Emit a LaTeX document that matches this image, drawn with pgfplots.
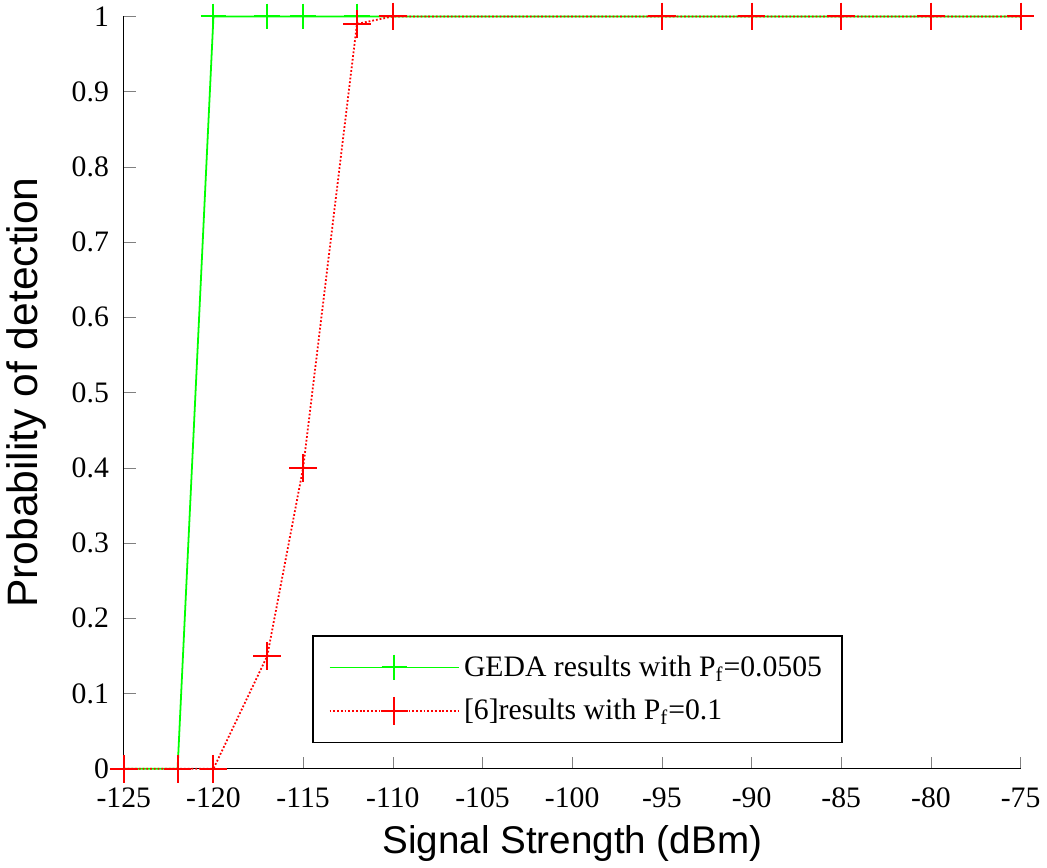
\documentclass[border=0pt]{standalone}
\usepackage{fontspec}
\setmainfont{Liberation Serif}
\newfontfamily\arial{Liberation Sans}
\usepackage{pgfplots}
\pgfplotsset{compat=1.18}

\begin{document}
\begin{tikzpicture}
\begin{axis}[
    scale only axis,
    width=453pt, height=380pt,
    xmin=-125, xmax=-75, ymin=0, ymax=1,
    axis lines*=left,
    tick align=inside,
    major tick length=6pt,
    xtick={-125,-120,...,-75},
    ytick={0,0.1,...,1},
    /pgf/number format/assume math mode=true,
    /pgf/number format/fixed,
    ticklabel style={font=\fontsize{15}{18}\selectfont},
    xticklabel style={yshift=-6pt},
    yticklabel style={xshift=-4pt},
    xlabel={\arial Signal Strength (dBm)},
    ylabel={\arial Probability of detection},
    xlabel style={font=\fontsize{19.5}{24}\selectfont, yshift=-2pt},
    ylabel style={font=\fontsize{21.5}{26}\selectfont, yshift=6pt},
    clip=false,
    legend cell align=left,
    legend style={at={(0.21,0.034)}, anchor=south west,
        font=\fontsize{15}{18}\selectfont, draw=black, line width=0.8pt,
        inner xsep=8pt, inner ysep=8pt, row sep=6pt,
        /tikz/every even column/.append style={column sep=6pt}},
    legend image code/.code={
        \draw[#1, mark=none] (0cm,0cm) -- (2.3cm,0cm);
        \draw[#1, only marks] plot coordinates {(1.15cm,0cm)};
    },
]
\addplot[color=green, line width=0.9pt, mark=+, mark size=6.5pt,
    mark options={solid, line width=1pt}] coordinates {
    (-125,0) (-122,0) (-120,1) (-117,1) (-115,1) (-112,1) (-110,1)
    (-95,1) (-90,1) (-85,1) (-80,1) (-75,1)
};
\addlegendentry{GEDA results with P$_\mathrm{f}$=0.0505}
\addplot[color=red, line width=0.9pt, densely dotted, mark=+, mark size=7pt,
    mark options={solid, line width=1pt}] coordinates {
    (-125,0) (-122,0) (-120,0) (-117,0.15) (-115,0.4) (-112,0.99) (-110,1)
    (-95,1) (-90,1) (-85,1) (-80,1) (-75,1)
};
\addlegendentry{[6]results with P$_\mathrm{f}$=0.1}
\end{axis}
\end{tikzpicture}
\end{document}
